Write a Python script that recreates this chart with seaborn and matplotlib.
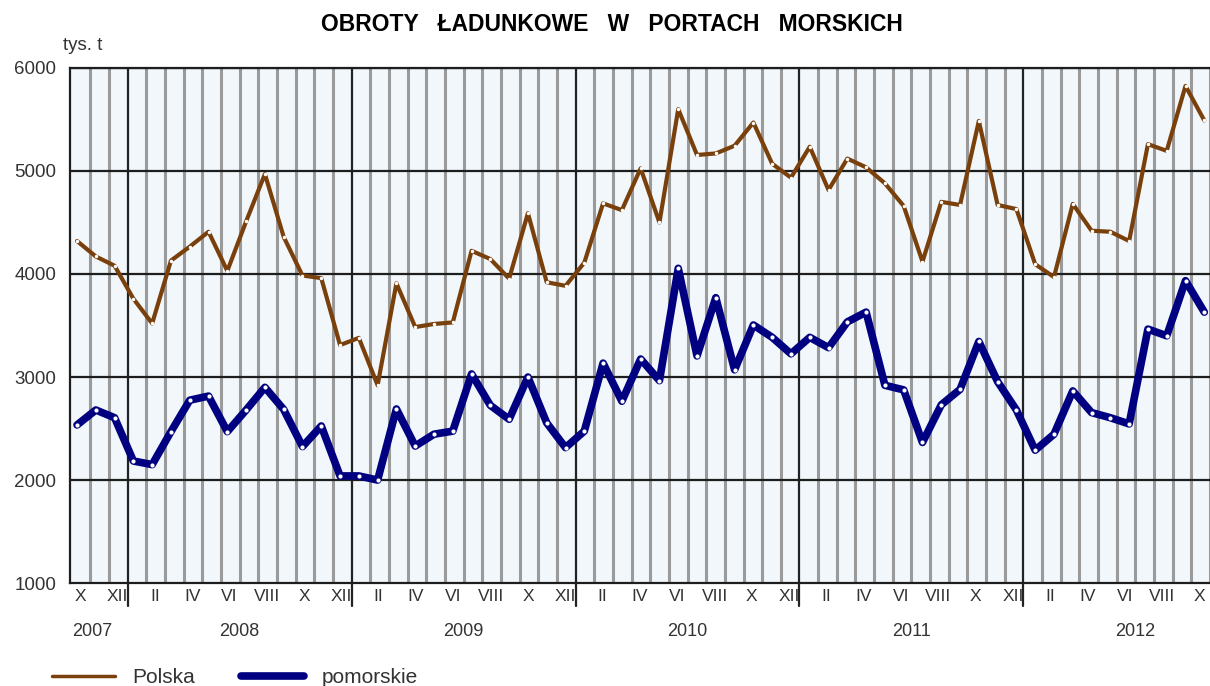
import numpy as np
import pandas as pd
import seaborn as sns
import matplotlib.pyplot as plt
from matplotlib.lines import Line2D
import matplotlib.transforms as mtransforms

# miesiace od X 2007 do X 2012
rzymskie = ["I", "II", "III", "IV", "V", "VI", "VII", "VIII", "IX", "X", "XI", "XII"]
lata = [2007, 2008, 2009, 2010, 2011, 2012]

# tys. t
polska = [4320, 4170, 4080, 3760, 3520, 4130, 4265, 4410, 4030, 4510, 4970, 4360,
          3985, 3960, 3310, 3380, 2920, 3910, 3485, 3515, 3530, 4225, 4145, 3955,
          4590, 3920, 3885, 4110, 4685, 4620, 5025, 4500, 5600, 5155, 5170, 5245,
          5470, 5070, 4935, 5235, 4815, 5120, 5035, 4880, 4660, 4120, 4700, 4670,
          5485, 4670, 4630, 4095, 3970, 4680, 4420, 4410, 4320, 5260, 5195, 5825,
          5490]
pomorskie = [2535, 2680, 2605, 2185, 2150, 2470, 2775, 2815, 2470, 2680, 2900, 2685,
             2325, 2525, 2040, 2040, 2000, 2690, 2330, 2445, 2475, 3030, 2725, 2590,
             3000, 2555, 2315, 2475, 3135, 2765, 3175, 2965, 4055, 3205, 3770, 3070,
             3505, 3385, 3225, 3385, 3285, 3535, 3630, 2920, 2875, 2365, 2730, 2880,
             3345, 2955, 2680, 2290, 2445, 2865, 2655, 2605, 2545, 3465, 3400, 3935,
             3630]

n = len(polska)
miesiac = [(9 + i) % 12 for i in range(n)]
rok = [2007 + (9 + i) // 12 for i in range(n)]
# punkty wykresu leza nieco inaczej niz siatka miesiecy (jak w oryginale)
df = pd.DataFrame({"nr": 0.28 + 1.0069 * np.arange(n), "Polska": polska,
                   "pomorskie": pomorskie, "miesiac": miesiac, "rok": rok})

sns.set_style("white")
plt.rcParams["font.family"] = ["Liberation Sans", "DejaVu Sans"]

fig = plt.figure(figsize=(12.1, 6.86), dpi=100)
ax = fig.add_axes([0.0579, 0.150, 0.9421, 0.751])
ax.set_facecolor("#F1F7FA")

brazowy = "#7A400C"
granat = "#000080"

# siatka pionowa (granice miesiecy)
granice_lat = [k for k in range(n) if miesiac[k] == 0]
for k in range(1, n + 1):
    if k in granice_lat:
        ax.axvline(k, ymin=-0.045, ymax=1, color="#222222", lw=1.6, zorder=2, clip_on=False)
    else:
        ax.axvline(k, color="#9A9A9A", lw=2.2, zorder=1)
for v in [2000, 3000, 4000, 5000, 6000]:
    ax.axhline(v, color="#1E1E1E", lw=1.6, zorder=2)

sns.lineplot(data=df, x="nr", y="pomorskie", color=granat, lw=5.5, sort=False,
             marker="o", markersize=3, markerfacecolor="white", markeredgewidth=0,
             zorder=4, ax=ax)
sns.lineplot(data=df, x="nr", y="Polska", color=brazowy, lw=3, sort=False,
             marker="o", markersize=2.5, markerfacecolor="white", markeredgewidth=0,
             zorder=5, ax=ax)

ax.set_xlim(-0.093, 60.71)
ax.set_ylim(1000, 6000)
ax.set_yticks([1000, 2000, 3000, 4000, 5000, 6000])
ax.tick_params(axis="y", labelsize=13.5, labelcolor="#333333", length=6, width=1.5,
               color="#222222", pad=4)

ax.set_xticks(np.arange(0, n + 1))
ax.set_xticklabels([])
ax.tick_params(axis="x", which="major", length=6, width=1.5, color="#222222")
etyk = [k for k in range(n) if miesiac[k] % 2 == 1]
ax.set_xticks([k + 0.45 for k in etyk], minor=True)
ax.set_xticklabels([rzymskie[miesiac[k]] for k in etyk], minor=True)
ax.tick_params(axis="x", which="minor", length=0, labelsize=12.5, labelcolor="#333333", pad=4)

trans = mtransforms.blended_transform_factory(ax.transData, ax.transAxes)
for r in lata:
    idx = [k for k in range(n) if rok[k] == r]
    srodek = 1.08 if r == 2007 else idx[0] + 6
    ax.text(srodek, -0.093, str(r), transform=trans, ha="center", va="center",
            fontsize=13, color="#333333")

ax.set_xlabel("")
ax.set_ylabel("")
ax.spines["right"].set_visible(False)
for s in ["left", "bottom", "top"]:
    ax.spines[s].set_color("#1E1E1E")
    ax.spines[s].set_linewidth(1.6)
if ax.get_legend():
    ax.get_legend().remove()

fig.text(0.506, 0.964, "OBROTY   ŁADUNKOWE   W   PORTACH   MORSKICH", ha="center",
         va="center", fontsize=16.5, fontweight="bold", color="black")
fig.text(0.052, 0.933, "tys. t", ha="left", va="center", fontsize=13.5, color="#333333")

uchwyty = [Line2D([], [], color=brazowy, lw=2.5),
           Line2D([], [], color=granat, lw=5.5, solid_capstyle="round")]
fig.legend(uchwyty, ["Polska", "pomorskie"], loc="center left",
           bbox_to_anchor=(0.043, 0.012), ncol=2, frameon=False, fontsize=15,
           handlelength=3.0, columnspacing=2.2, handletextpad=0.87,
           borderpad=0, borderaxespad=0, labelcolor="#333333")

fig.savefig("out.png", dpi=100)
